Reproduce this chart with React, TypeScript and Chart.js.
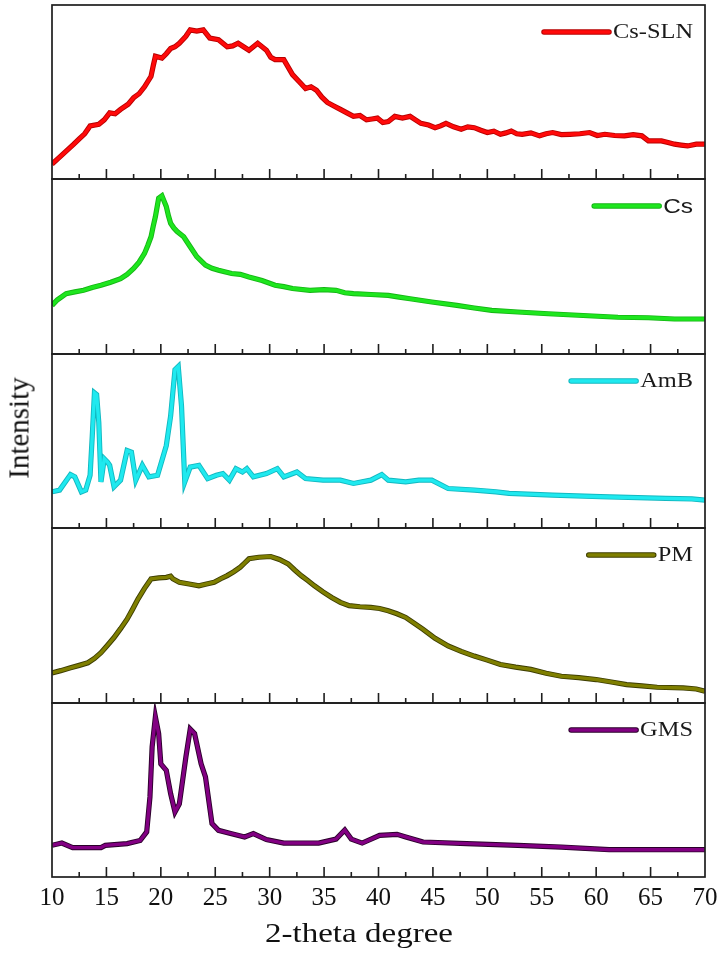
import React, { useEffect, useRef } from "react";
import { Chart, registerables } from "chart.js";

Chart.register(...registerables);

// ---------- data ----------
const xMin = 10;
const xMax = 70;
const majorStep = 5;
const minorStep = 2.5;

const seriesNames = ["Cs-SLN", "Cs", "AmB", "PM", "GMS"];
const seriesColors = ["#ff0a0a", "#1ee61e", "#1fe9ef", "#7f7f00", "#820082"];
const edgeColors = ["#b80000", "#15b515", "#12b8c0", "#3c3c00", "#2a002a"];
const legendFonts = [
  '"Liberation Serif", serif',
  '"Liberation Sans", Arial, sans-serif',
  '"Liberation Serif", serif',
  '"Liberation Serif", serif',
  '"Liberation Serif", serif',
];
const xTitle = "2-theta degree";
const yTitle = "Intensity";

const csSlnX = [10, 10.6, 11.3, 12.0, 12.5, 13.0, 13.5, 14.3, 14.8, 15.3, 15.8, 16.3, 17.0, 17.5, 18.0, 18.5, 19.1, 19.3, 19.5, 20.1, 20.5, 20.9, 21.3, 21.7, 22.3, 22.7, 23.3, 23.9, 24.5, 25.3, 26.1, 26.6, 27.1, 27.6, 28.1, 28.9, 29.7, 30.1, 30.5, 31.3, 32.1, 32.7, 33.3, 33.8, 34.3, 34.8, 35.3, 35.9, 36.5, 37.1, 37.7, 38.3, 38.9, 39.4, 39.9, 40.4, 40.9, 41.5, 42.2, 42.9, 43.4, 43.9, 44.6, 45.2, 45.7, 46.2, 46.9, 47.6, 48.2, 48.8, 49.4, 50.0, 50.6, 51.2, 51.7, 52.2, 52.7, 53.2, 54.0, 54.8, 55.4, 56.0, 56.8, 57.6, 58.5, 59.4, 60.1, 60.8, 61.7, 62.6, 63.4, 64.2, 64.8, 66.0, 66.6, 67.2, 67.8, 68.4, 69.2, 70];
const csSlnY = [8.6, 12, 16, 20, 23, 26, 30.5, 31.4, 34, 38, 37.5, 40, 43, 46.7, 49, 53, 59, 65, 70.5, 69.5, 72, 75, 76, 78, 82, 85.7, 85, 85.7, 81, 80, 76, 76.5, 78, 76, 74, 78, 74, 70, 68.6, 68.6, 60, 56, 52, 53, 51, 47, 44, 42, 40, 38, 36, 36.5, 34, 34.5, 35, 32.5, 33, 36, 35, 36, 34, 32, 31, 29.5, 30.5, 32, 30, 28.6, 30, 29.5, 28, 26.7, 27.5, 25.7, 26.5, 27.6, 26, 25.7, 26.5, 24.8, 26, 26.7, 25.5, 25.7, 26, 26.7, 25, 25.7, 25, 24.8, 25.5, 24.8, 21.9, 21.9, 21, 20, 19.5, 19, 20, 20];

const csX = [10, 10.5, 11.3, 12.1, 12.9, 13.7, 14.5, 15.4, 16.3, 16.9, 17.5, 18.0, 18.5, 18.8, 19.1, 19.3, 19.5, 19.8, 20.1, 20.5, 20.7, 20.9, 21.2, 21.5, 22.1, 22.7, 23.3, 24.1, 24.7, 25.3, 26.5, 27.3, 28.1, 29.3, 30.5, 31.3, 32.1, 33.7, 35.0, 36.1, 36.9, 37.7, 39.3, 40.9, 41.9, 42.9, 44.9, 47.2, 48.8, 50.4, 52.8, 55.6, 58.8, 62.0, 64.8, 67.2, 70];
const csY = [27.8, 31, 34.5, 35.5, 36.4, 38, 39.3, 41, 43, 45.5, 48.9, 52.5, 57.5, 62, 67, 73, 78.5, 89, 90.4, 84.3, 79, 74.7, 72, 70, 67, 61.3, 55.6, 50.8, 49, 47.9, 46, 45.5, 44, 42, 39.3, 38.5, 37.4, 36.4, 36.8, 36.4, 35, 34.5, 34, 33.5, 32.5, 31.6, 29.7, 27.8, 26.3, 24.9, 24, 23, 22, 21, 20.7, 20, 20];

const amBX = [10, 10.7, 11.7, 12.1, 12.7, 13.1, 13.5, 13.7, 13.9, 14.1, 14.3, 14.5, 14.8, 15.1, 15.3, 15.7, 16.3, 16.9, 17.3, 17.7, 18.3, 18.9, 19.7, 20.5, 20.9, 21.3, 21.6, 21.9, 22.2, 22.7, 23.5, 24.3, 25.1, 25.7, 26.3, 26.9, 27.5, 27.9, 28.5, 29.7, 30.7, 31.3, 32.5, 33.3, 34.9, 36.5, 37.7, 39.3, 40.3, 40.9, 42.5, 43.7, 44.9, 46.4, 48.8, 50.8, 52.0, 56.0, 60.4, 66.4, 68.8, 70];
const amBY = [20.8, 21.8, 30.7, 29.4, 20.8, 21.8, 30.3, 53, 77.7, 76.7, 60.6, 26.5, 39.8, 37.9, 36, 23.7, 27.5, 44.5, 43.6, 27.5, 36, 29.4, 30.3, 47.3, 64.4, 91, 92.8, 70, 26.5, 35, 36, 28.4, 30.3, 31.3, 27.5, 34.1, 32.2, 34.1, 29.4, 31.3, 34.1, 29.4, 32.2, 28.4, 27.5, 27.5, 25.6, 27.5, 30.7, 27.5, 26.5, 27.5, 27.5, 22.7, 21.8, 20.8, 19.9, 18.9, 18, 17, 16.7, 16];

const pmX = [10, 10.8, 11.7, 12.5, 13.3, 13.9, 14.5, 15.1, 15.7, 16.3, 16.9, 17.4, 17.9, 18.5, 19.1, 19.8, 20.5, 20.9, 21.1, 21.7, 22.6, 23.5, 24.2, 24.9, 25.5, 26.1, 26.7, 27.3, 27.7, 28.1, 29.0, 30.1, 30.9, 31.7, 32.3, 32.9, 33.5, 34.1, 34.9, 35.7, 36.5, 37.3, 38.3, 39.3, 40.1, 40.9, 41.7, 42.5, 43.3, 44.1, 45.2, 46.4, 47.6, 48.8, 50.0, 51.2, 52.6, 54.0, 55.4, 56.8, 58.4, 60.0, 61.4, 62.8, 64.2, 65.6, 68.0, 69.2, 70];
const pmY = [17.2, 18.5, 20.1, 21.5, 23, 25.5, 28.7, 33, 37.4, 42.5, 47.9, 53.5, 59.4, 65.5, 70.9, 71.5, 71.8, 72.5, 71, 69, 68, 67, 68, 69, 71, 72.8, 75, 77.6, 80, 82.4, 83.3, 83.7, 82, 79.5, 76, 72.8, 70, 67, 63.5, 60.3, 57.5, 55.6, 55, 54.6, 54, 52.7, 51, 48.9, 45.5, 42.1, 37, 32.6, 29.5, 26.8, 24.5, 22, 20.5, 19.2, 17, 15.3, 14.5, 13.4, 12, 10.5, 9.8, 9, 8.6, 8, 6.7];

const gmsX = [10, 10.9, 11.9, 14.5, 14.9, 16.9, 18.1, 18.7, 19.0, 19.2, 19.5, 19.8, 20.0, 20.5, 20.9, 21.3, 21.7, 22.3, 22.7, 23.1, 23.7, 24.1, 24.7, 25.3, 26.5, 27.7, 28.5, 29.7, 31.3, 34.5, 36.1, 36.9, 37.5, 38.5, 40.1, 41.7, 42.5, 44.1, 48.1, 52.8, 56.8, 61.2, 70];
const gmsY = [18.2, 19.5, 16.9, 16.9, 18.2, 19.2, 21, 25.9, 46, 74.7, 92, 82.4, 65, 61.3, 47.9, 37.4, 42, 68.9, 85, 82.4, 65, 57.5, 30.7, 26.8, 24.9, 23, 24.9, 21.5, 19.5, 19.5, 21.8, 27, 21.8, 19.5, 23.9, 24.5, 23, 20.1, 19.2, 18.2, 17.2, 15.7, 15.7];

const seriesX = [csSlnX, csX, amBX, pmX, gmsX];
const seriesY = [csSlnY, csY, amBY, pmY, gmsY];

// ---------- layout (pixels) ----------
const panelTops = [5, 179, 354, 528, 703];
const panelBottoms = [179, 354, 528, 703, 877];
const PLOT_LEFT = 52;
const PLOT_RIGHT = 705;
const PAGE_W = 720;
const PAD = 3;
const PAGE_H = 953;
const TICK_FONT = 25;
const TICK_PAD = 6;
const AXIS_H = TICK_FONT * 1.2 + TICK_PAD;

const framePlugin = {
  id: "panelFrame",
  afterDatasetsDraw(chart: any, _args: any, opts: any) {
    const { ctx, chartArea } = chart;
    const { left, right, top, bottom } = chartArea;
    const x = chart.scales.x;
    ctx.save();
    ctx.strokeStyle = "#1e1e1e";
    ctx.lineWidth = 1.7;
    ctx.strokeRect(left, top, right - left, bottom - top);
    ctx.lineWidth = 1.6;
    for (let v = xMin + minorStep; v < xMax; v += minorStep) {
      const px = x.getPixelForValue(v);
      const len = Math.abs(v % majorStep) < 1e-6 ? 10 : 5;
      ctx.beginPath();
      ctx.moveTo(px, bottom);
      ctx.lineTo(px, bottom - len);
      ctx.stroke();
    }
    // legend (line sample + label)
    const i = opts.index;
    const label = seriesNames[i];
    const sx = 1.22;
    ctx.font = `20px ${legendFonts[i]}`;
    const tw = ctx.measureText(label).width * sx;
    const textRight = right - 12;
    const ly = top + 27;
    const lineEnd = textRight - tw - 4;
    const lineStart = lineEnd - 65;
    ctx.lineCap = "round";
    ctx.strokeStyle = edgeColors[i];
    ctx.lineWidth = 5.5;
    ctx.beginPath();
    ctx.moveTo(lineStart, ly);
    ctx.lineTo(lineEnd, ly);
    ctx.stroke();
    ctx.strokeStyle = seriesColors[i];
    ctx.lineWidth = 3.5;
    ctx.beginPath();
    ctx.moveTo(lineStart, ly);
    ctx.lineTo(lineEnd, ly);
    ctx.stroke();
    ctx.fillStyle = "#1a1a1a";
    ctx.textAlign = "right";
    ctx.textBaseline = "middle";
    ctx.translate(textRight, ly);
    ctx.scale(sx, 1);
    ctx.fillText(label, 0, 1);
    ctx.restore();
  },
};

function Panel({ index }: { index: number }) {
  const ref = useRef<HTMLCanvasElement | null>(null);
  const isLast = index === 4;
  const top = panelTops[index] - PAD;
  const height = isLast ? PAGE_H - top : panelBottoms[index] - panelTops[index] + 2 * PAD;
  const bottomPad = isLast ? PAGE_H - panelBottoms[index] - AXIS_H : PAD;

  useEffect(() => {
    if (!ref.current) return;
    const pts = seriesX[index].map((xv, k) => ({ x: xv, y: seriesY[index][k] }));
    const chart = new Chart(ref.current, {
      type: "line",
      data: {
        datasets: [
          {
            label: seriesNames[index],
            data: pts,
            borderColor: seriesColors[index],
            borderWidth: 3.4,
            pointRadius: 0,
            tension: 0,
            fill: false,
            order: 1,
          },
          {
            label: seriesNames[index] + " edge",
            data: pts,
            borderColor: edgeColors[index],
            borderWidth: 5.2,
            pointRadius: 0,
            tension: 0,
            fill: false,
            order: 2,
          },
        ],
      },
      options: {
        animation: false,
        responsive: false,
        events: [],
        layout: { padding: { left: PLOT_LEFT, right: PAGE_W - PLOT_RIGHT, top: PAD, bottom: bottomPad } },
        plugins: {
          legend: { display: false },
          tooltip: { enabled: false },
          panelFrame: { index },
        } as any,
        scales: {
          x: {
            type: "linear",
            min: xMin,
            max: xMax,
            display: isLast,
            grid: { display: false, drawTicks: false },
            border: { display: false },
            afterFit: (s: any) => {
              s.paddingLeft = 0;
              s.paddingRight = 0;
              if (s.options.display) s.height = AXIS_H;
            },
            ticks: {
              stepSize: majorStep,
              padding: TICK_PAD,
              color: "#111",
              autoSkip: false,
              maxRotation: 0,
              font: { family: "Liberation Serif", size: TICK_FONT },
            },
            title: { display: false },
          },
          y: { display: false, min: 0, max: 100 },
        },
      } as any,
      plugins: [framePlugin as any],
    });
    // make sure the plot area sits exactly on the panel box
    const ca = chart.chartArea;
    const wantBottom = panelBottoms[index] - top;
    const pad = (chart.options as any).layout.padding;
    const dB = ca.bottom - wantBottom;
    const dR = ca.right - (PLOT_RIGHT);
    if (Math.abs(dB) > 0.25 || Math.abs(dR) > 0.25) {
      pad.bottom = Math.max(0, pad.bottom + dB);
      pad.right = Math.max(0, pad.right + dR);
      chart.update();
    }
    return () => chart.destroy();
  }, [index]);

  return (
    <div style={{ position: "absolute", left: 0, top, width: PAGE_W, height }}>
      <canvas ref={ref} width={PAGE_W} height={height} style={{ display: "block" }} />
    </div>
  );
}

export default function App() {
  return (
    <div style={{ position: "absolute", left: 0, top: 0, width: PAGE_W, height: PAGE_H, background: "#fff", overflow: "hidden" }}>
      {[0, 1, 2, 3, 4].map((i) => (
        <Panel key={i} index={i} />
      ))}
      <div
        style={{
          position: "absolute",
          left: 19,
          top: 428,
          transform: "translate(-50%, -50%) rotate(-90deg)",
          fontFamily: '"Liberation Serif", serif',
          fontSize: 29,
          lineHeight: 1,
          color: "#111",
          whiteSpace: "nowrap",
        }}
      >
        {yTitle}
      </div>
      <div
        style={{
          position: "absolute",
          left: 359,
          top: 932.5,
          transform: "translate(-50%, -50%) scaleX(1.18)",
          fontFamily: '"Liberation Serif", serif',
          fontSize: 28,
          lineHeight: 1,
          color: "#111",
          whiteSpace: "nowrap",
        }}
      >
        {xTitle}
      </div>
    </div>
  );
}
